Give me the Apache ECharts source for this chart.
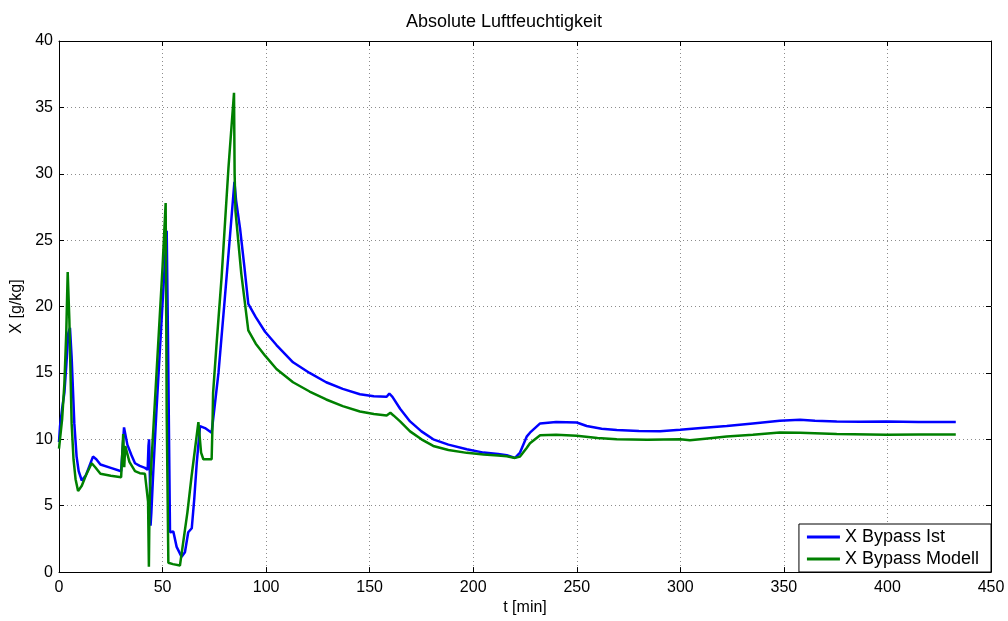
<!DOCTYPE html>
<html>
<head>
<meta charset="utf-8">
<script src="https://cdn.jsdelivr.net/npm/echarts@6/dist/echarts.min.js"></script>
<style>
  html, body { margin: 0; padding: 0; background: #fff; }
  #chart { width: 1008px; height: 621px; }
</style>
</head>
<body>
<div id="chart"></div>
<script>
// Zeit [min] und absolute Feuchte [g/kg]
const istT = [0, 0.5, 1.5, 2.6, 3.5, 4.5, 5.3, 6.1, 7.4, 8.5,
  9.5, 11, 13, 16.4, 18, 20, 25, 30, 30.8, 31.4,
  31.9, 33, 35, 36.7, 39, 41.5, 42.8, 43.2, 43.5, 43.8,
  44.2, 44.6, 45.5, 47, 49, 51, 52, 52.6, 53.6, 55.2,
  56.8, 59.2, 60.8, 62.4, 64.1, 65.3, 66.5, 68.1, 70.5, 73.7,
  74.5, 77, 80, 82.5, 84.7, 85.5, 87.4, 89.5, 91.4, 95,
  99.5, 105, 113, 121, 129, 137, 145.3, 152, 158.2, 159.5,
  161, 164.7, 169.5, 175, 180.7, 188, 196.9, 205, 212, 216.2,
  220.2, 222.6, 225.8, 227.4, 232.3, 240, 250, 254.8, 262, 269.3,
  280, 290.2, 299.9, 310, 322.4, 335, 348, 357.8, 365, 375.5,
  387, 399.6, 415, 431.8, 433];
const istX = [9.8, 11, 12.3, 13.5, 15.5, 18, 18.4, 16.2, 11.2, 8.7,
  7.6, 6.9, 7.3, 8.7, 8.5, 8.1, 7.85, 7.6, 7.7, 10.9,
  10.9, 9.6, 8.8, 8.2, 8.0, 7.85, 7.7, 9.5, 10.0, 8.0,
  3.5, 4.5, 7.5, 12, 17.5, 23, 25.7, 18, 3.0, 3.06,
  1.9, 1.15, 1.5, 3.0, 3.3, 5.5, 8.2, 11.0, 10.85, 10.5,
  10.4, 15, 20.5, 25.2, 29.4, 28, 25.9, 23, 20.2, 19.2,
  18.1, 17.1, 15.8, 15.0, 14.3, 13.8, 13.4, 13.25, 13.2, 13.45,
  13.2, 12.3, 11.35, 10.6, 10.0, 9.6, 9.25, 9.0, 8.9, 8.8,
  8.6, 9.0, 10.2, 10.5, 11.2, 11.3, 11.27, 11.0, 10.8, 10.7,
  10.62, 10.6, 10.72, 10.85, 11.0, 11.2, 11.4, 11.47, 11.4, 11.34,
  11.32, 11.34, 11.3, 11.3, 11.3];

const modT = [0, 0.5, 1.5, 2.6, 3.5, 4.2, 5, 6.1, 7, 8,
  9.2, 11, 13, 15.8, 17.5, 20, 25, 30, 30.6, 31,
  31.5, 32, 34, 36.7, 39, 41.5, 42.3, 43, 43.4, 43.7,
  44.2, 46, 48, 50, 51.5, 52, 52.8, 55, 58.4, 59.2,
  62, 64, 67.3, 68.6, 69.7, 73.7, 74.1, 74.4, 76, 78.5,
  81.8, 84.5, 84.8, 85.2, 88, 91.4, 95, 99.5, 105, 113,
  121, 129, 137, 145.3, 152, 158.2, 160, 161.5, 164.7, 169.5,
  175, 180.7, 188, 196.9, 205, 212, 216.2, 220.2, 222.6, 225.8,
  227.4, 232.3, 240, 250, 260, 269.3, 284, 300, 304.6, 312,
  322.4, 335, 348, 357.8, 375.5, 399.6, 415, 431.8, 433];
const modX = [9.3, 9.3, 11.5, 14.2, 18, 22.6, 19, 11.2, 8.5, 7.0,
  6.1, 6.5, 7.3, 8.2, 7.9, 7.4, 7.25, 7.15, 7.1, 10.4,
  7.9, 9.5, 8.3, 7.6, 7.45, 7.4, 7.5, 5.3, 0.4, 5.0,
  7.1, 12, 17.5, 23, 27.8, 12, 0.7, 0.6, 0.5, 0.45,
  4.5, 7.2, 11.3, 9.0, 8.5, 8.5, 11, 13.5, 17, 22.2,
  30.4, 36.1, 30, 27.2, 22.5, 18.2, 17.2, 16.3, 15.3, 14.3,
  13.6, 13.0, 12.5, 12.1, 11.9, 11.8, 12.0, 11.8, 11.35, 10.6,
  10.0, 9.5, 9.2, 8.98, 8.85, 8.78, 8.73, 8.6, 8.7, 9.35,
  9.7, 10.3, 10.35, 10.27, 10.1, 10.0, 9.97, 10.0, 9.93, 10.05,
  10.22, 10.35, 10.52, 10.5, 10.4, 10.35, 10.37, 10.37, 10.37];

const seriesNames = ['X Bypass Ist', 'X Bypass Modell'];
const xTicks = [0, 50, 100, 150, 200, 250, 300, 350, 400, 450];
const yTicks = [0, 5, 10, 15, 20, 25, 30, 35, 40];

const zip = (t, v) => t.map((x, i) => [x, v[i]]);
const font = '"Liberation Sans", Arial, Helvetica, sans-serif';

const chart = echarts.init(document.getElementById('chart'));

// Rahmen oben/rechts wie bei Matlab: zweite Achsen nur mit Ticks
const frameAxis = (pos, ticks) => ({
  type: 'value',
  position: pos,
  min: ticks[0],
  max: ticks[ticks.length - 1],
  interval: ticks[1] - ticks[0],
  axisLine: { show: true, onZero: false, lineStyle: { color: '#000', width: 1 } },
  axisTick: { show: true, inside: true, length: 5, lineStyle: { color: '#000' } },
  axisLabel: { show: false },
  splitLine: { show: false }
});

const option = {
  animation: false,
  backgroundColor: '#fff',
  title: {
    text: 'Absolute Luftfeuchtigkeit',
    left: 'center',
    top: 8,
    textStyle: { fontFamily: font, fontSize: 18, fontWeight: 'normal', color: '#000' }
  },
  grid: { left: 59, right: 17, top: 41, bottom: 44 },
  legend: {
    data: seriesNames,
    orient: 'vertical',
    right: 17,
    bottom: 49,
    backgroundColor: '#fff',
    borderColor: '#000',
    borderWidth: 1,
    borderRadius: 0,
    padding: [4, 12, 4, 8],
    itemGap: 4,
    itemWidth: 33,
    itemHeight: 3,
    icon: 'rect',
    textStyle: { fontFamily: font, fontSize: 18, color: '#000' }
  },
  xAxis: [{
    type: 'value',
    name: 't [min]',
    nameLocation: 'middle',
    nameGap: 24,
    nameTextStyle: { fontFamily: font, fontSize: 16, color: '#000' },
    min: xTicks[0],
    max: xTicks[xTicks.length - 1],
    interval: xTicks[1] - xTicks[0],
    axisLine: { show: true, onZero: false, lineStyle: { color: '#000', width: 1 } },
    axisTick: { show: true, inside: true, length: 5, lineStyle: { color: '#000' } },
    axisLabel: { fontFamily: font, fontSize: 16, color: '#000', margin: 7 },
    splitLine: { show: true, lineStyle: { color: '#8c8c8c', type: [1, 3], width: 1 } }
  }, frameAxis('top', xTicks)],
  yAxis: [{
    type: 'value',
    name: 'X [g/kg]',
    nameLocation: 'middle',
    nameGap: 25,
    nameTextStyle: { fontFamily: font, fontSize: 16, color: '#000' },
    min: yTicks[0],
    max: yTicks[yTicks.length - 1],
    interval: yTicks[1] - yTicks[0],
    axisLine: { show: true, onZero: false, lineStyle: { color: '#000', width: 1 } },
    axisTick: { show: true, inside: true, length: 5, lineStyle: { color: '#000' } },
    axisLabel: { fontFamily: font, fontSize: 16, color: '#000', margin: 6 },
    splitLine: { show: true, lineStyle: { color: '#8c8c8c', type: [1, 3], width: 1 } }
  }, frameAxis('right', yTicks)],
  series: [
    {
      name: seriesNames[0],
      type: 'line',
      data: zip(istT, istX),
      showSymbol: false,
      symbol: 'none',
      lineStyle: { color: '#0000ff', width: 2.5 },
      itemStyle: { color: '#0000ff' },
      z: 3
    },
    {
      name: seriesNames[1],
      type: 'line',
      data: zip(modT, modX),
      showSymbol: false,
      symbol: 'none',
      lineStyle: { color: '#008000', width: 2.5 },
      itemStyle: { color: '#008000' },
      z: 4
    }
  ]
};

chart.setOption(option);
</script>
</body>
</html>
